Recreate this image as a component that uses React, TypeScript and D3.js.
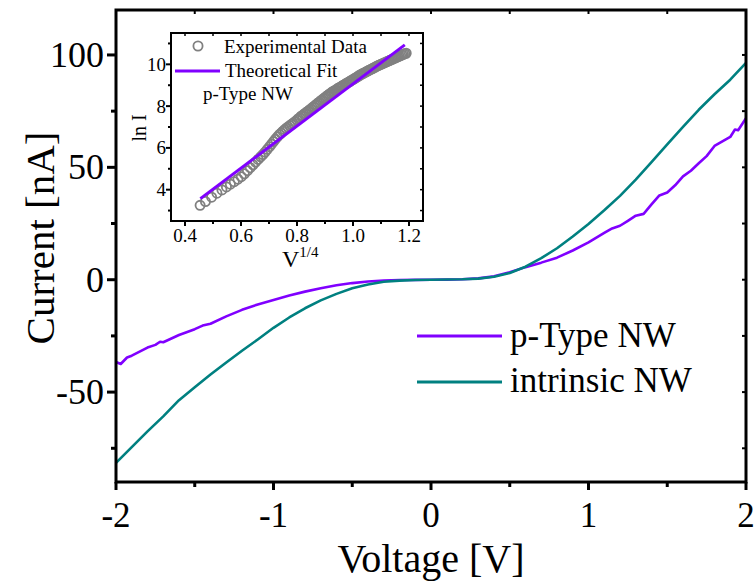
import React from "react";
import * as d3 from "d3";

const voltage = [-2.0,-1.9,-1.8,-1.7,-1.6,-1.5,-1.4,-1.3,-1.2,-1.1,-1.0,-0.9,-0.8,-0.7,-0.6,-0.5,-0.4,-0.3,-0.2,-0.1,0,0.1,0.2,0.3,0.4,0.5,0.6,0.7,0.8,0.9,1.0,1.1,1.2,1.3,1.4,1.5,1.6,1.7,1.8,1.9,2.0];
const intrinsicCurrent = [-81.5,-74.5,-67.5,-60.8,-53.6,-47.8,-42.2,-36.8,-31.6,-26.6,-21.4,-16.8,-12.7,-9.2,-6.3,-3.8,-2.1,-0.9,-0.4,-0.1,0,0.1,0.2,0.5,1.3,3.0,5.8,9.6,14.0,19.2,24.8,30.9,37.3,44.5,52.3,60.2,68.0,75.6,82.5,89.0,96.5];

const pVoltage = [-2.0,-1.97,-1.93,-1.9,-1.8,-1.75,-1.72,-1.7,-1.6,-1.5,-1.45,-1.4,-1.3,-1.2,-1.1,-1.0,-0.9,-0.8,-0.7,-0.6,-0.5,-0.4,-0.3,-0.2,-0.1,0,0.1,0.2,0.3,0.4,0.5,0.6,0.7,0.8,0.9,1.0,1.1,1.15,1.2,1.25,1.3,1.35,1.4,1.45,1.5,1.55,1.6,1.65,1.7,1.75,1.8,1.85,1.9,1.93,1.95,2.0];
const pTypeCurrent = [-36.6,-37.5,-34.6,-33.8,-30.2,-29.0,-27.6,-27.8,-24.6,-22.0,-20.4,-19.6,-16.3,-13.4,-11.0,-9.0,-7.0,-5.3,-3.8,-2.5,-1.5,-0.8,-0.4,-0.15,-0.05,0,0.05,0.2,0.6,1.5,3.3,5.6,7.6,9.8,13.0,16.6,20.8,22.8,24.0,26.2,28.5,29.3,33.5,37.5,38.8,42.0,46.0,48.5,51.8,55.0,59.5,61.5,63.5,66.8,66.5,71.8];

const xTicks = [-2,-1,0,1,2];
const xTickLabels = ["-2","-1","0","1","2"];
const yTicks = [-50,0,50,100];
const yTickLabels = ["-50","0","50","100"];

const insetX = [0.454,0.473,0.495,0.514,0.532,0.548,0.562,0.576,0.589,0.601,0.612,0.623,0.633,0.643,0.652,0.661,0.670,0.678,0.686,0.694,0.702,0.709,0.716,0.723,0.730,0.737,0.743,0.750,0.756,0.762,0.768,0.774,0.780,0.786,0.792,0.800,0.805,0.810,0.815,0.820,0.825,0.830,0.835,0.840,0.845,0.850,0.855,0.860,0.865,0.870,0.875,0.880,0.885,0.890,0.895,0.900,0.905,0.910,0.915,0.920,0.925,0.930,0.935,0.940,0.945,0.950,0.955,0.960,0.965,0.970,0.975,0.980,0.985,0.990,0.995,1.000,1.005,1.010,1.015,1.020,1.025,1.030,1.035,1.040,1.045,1.050,1.055,1.060,1.065,1.070,1.075,1.080,1.085,1.090,1.095,1.100,1.105,1.110,1.115,1.120,1.125,1.130,1.135,1.140,1.145,1.150,1.155,1.160,1.165,1.170,1.175,1.180,1.185,1.190];
const insetLnI = [3.25,3.43,3.64,3.83,3.99,4.13,4.26,4.38,4.50,4.62,4.76,4.91,5.05,5.19,5.32,5.45,5.57,5.68,5.80,5.93,6.06,6.18,6.30,6.42,6.53,6.63,6.71,6.80,6.87,6.94,7.00,7.06,7.12,7.18,7.25,7.33,7.40,7.44,7.52,7.55,7.62,7.65,7.72,7.76,7.82,7.86,7.93,7.97,8.04,8.08,8.15,8.19,8.26,8.30,8.36,8.40,8.47,8.51,8.57,8.61,8.67,8.70,8.75,8.78,8.84,8.87,8.92,8.95,9.00,9.03,9.08,9.11,9.16,9.19,9.24,9.27,9.32,9.35,9.40,9.44,9.49,9.52,9.56,9.59,9.63,9.66,9.70,9.73,9.77,9.80,9.84,9.87,9.91,9.94,9.97,10.00,10.03,10.06,10.09,10.12,10.15,10.18,10.21,10.24,10.27,10.30,10.33,10.36,10.39,10.42,10.45,10.48,10.51,10.53];
const fitX = [0.455,1.185];
const fitY = [3.57,10.93];
const insetXTicks = [0.4,0.6,0.8,1.0,1.2];
const insetXTickLabels = ["0.4","0.6","0.8","1.0","1.2"];
const insetYTicks = [4,6,8,10];
const insetYTickLabels = ["4","6","8","10"];

const FONT = "'Liberation Serif', 'Times New Roman', serif";
const PURPLE = "#8000ff";
const TEAL = "#008080";

export default function App() {
  const x = d3.scaleLinear().domain([-2, 2]).range([116, 746]);
  const y = d3.scaleLinear().domain([-90, 120]).range([482, 10]);
  const line = d3.line<[number, number]>().x(d => x(d[0])).y(d => y(d[1]));
  const pPts = pVoltage.map((v, i) => [v, pTypeCurrent[i]] as [number, number]);
  const iPts = voltage.map((v, i) => [v, intrinsicCurrent[i]] as [number, number]);

  const xi = d3.scaleLinear().domain([0.35, 1.25]).range([171, 423]);
  const yi = d3.scaleLinear().domain([2.5, 11.5]).range([221, 33]);

  const xMinor = d3.range(-1.5, 2, 1);
  const yMinor = [-75, -25, 25, 75];
  const xAll = d3.range(-2, 2.01, 0.5);
  const yAll = d3.range(-75, 101, 25);

  const ixMinor = d3.range(0.5, 1.21, 0.2);
  const iyMinor = [3, 5, 7, 9, 11];
  const ixAll = d3.range(0.4, 1.21, 0.1);

  return (
    <svg width={755} height={581} style={{ position: "absolute", left: 0, top: 0, background: "#fff" }} fontFamily={FONT}>
      <rect x={0} y={0} width={755} height={581} fill="#fff" />
      <path d={line(pPts) || ""} fill="none" stroke={PURPLE} strokeWidth={2.6} strokeLinejoin="round" />
      <path d={line(iPts) || ""} fill="none" stroke={TEAL} strokeWidth={2.6} strokeLinejoin="round" />

      <rect x={x(-2)} y={y(120)} width={x(2) - x(-2)} height={y(-90) - y(120)} fill="none" stroke="#000" strokeWidth={3} />
      {xTicks.map(t => <line key={"bx" + t} x1={x(t)} x2={x(t)} y1={y(-90)} y2={y(-90) + 8} stroke="#000" strokeWidth={3} />)}
      {xMinor.map(t => <line key={"bxm" + t} x1={x(t)} x2={x(t)} y1={y(-90)} y2={y(-90) + 5} stroke="#000" strokeWidth={3} />)}
      {xAll.map(t => <line key={"tx" + t} x1={x(t)} x2={x(t)} y1={y(120)} y2={y(120) + 4} stroke="#000" strokeWidth={2} />)}
      {yTicks.map(t => <line key={"ly" + t} x1={x(-2) - 9} x2={x(-2)} y1={y(t)} y2={y(t)} stroke="#000" strokeWidth={3} />)}
      {yMinor.map(t => <line key={"lym" + t} x1={x(-2) - 5} x2={x(-2)} y1={y(t)} y2={y(t)} stroke="#000" strokeWidth={3} />)}
      {yAll.map(t => <line key={"ry" + t} x1={x(2) - 4} x2={x(2)} y1={y(t)} y2={y(t)} stroke="#000" strokeWidth={2} />)}

      {xTicks.map((t, i) => (
        <text key={"xl" + t} x={x(t)} y={527} fontSize={35} textAnchor="middle">{xTickLabels[i]}</text>
      ))}
      {yTicks.map((t, i) => (
        <text key={"yl" + t} x={104} y={y(t) + 12} fontSize={36} textAnchor="end">{yTickLabels[i]}</text>
      ))}
      <text x={431} y={572} fontSize={40} textAnchor="middle">Voltage [V]</text>
      <text transform={`translate(54,${238}) rotate(-90)`} fontSize={41} textAnchor="middle">Current [nA]</text>

      <line x1={417} x2={502} y1={336} y2={336} stroke={PURPLE} strokeWidth={3} />
      <text x={510} y={347} fontSize={35}>p-Type NW</text>
      <line x1={417} x2={502} y1={382} y2={382} stroke={TEAL} strokeWidth={3} />
      <text x={510} y={392} fontSize={35}>intrinsic NW</text>

      <rect x={xi(0.35)} y={yi(11.5)} width={xi(1.25) - xi(0.35)} height={yi(2.5) - yi(11.5)} fill="#fff" />
      {insetX.map((v, i) => (
        <circle key={"c" + i} cx={xi(v)} cy={yi(insetLnI[i])} r={4.6} fill="none" stroke="#808080" strokeWidth={1.8} />
      ))}
      <line x1={xi(fitX[0])} y1={yi(fitY[0])} x2={xi(fitX[1])} y2={yi(fitY[1])} stroke={PURPLE} strokeWidth={3} />
      <rect x={xi(0.35)} y={yi(11.5)} width={xi(1.25) - xi(0.35)} height={yi(2.5) - yi(11.5)} fill="none" stroke="#000" strokeWidth={2} />
      {insetXTicks.map(t => <line key={"ixt" + t} x1={xi(t)} x2={xi(t)} y1={yi(2.5)} y2={yi(2.5) + 5} stroke="#000" strokeWidth={2} />)}
      {ixMinor.map(t => <line key={"ixm" + t} x1={xi(t)} x2={xi(t)} y1={yi(2.5)} y2={yi(2.5) + 3} stroke="#000" strokeWidth={2} />)}
      {ixAll.map(t => <line key={"ixtop" + t} x1={xi(t)} x2={xi(t)} y1={yi(11.5)} y2={yi(11.5) + 3} stroke="#000" strokeWidth={1.5} />)}
      {insetYTicks.map(t => <line key={"iyt" + t} x1={xi(0.35) - 5} x2={xi(0.35)} y1={yi(t)} y2={yi(t)} stroke="#000" strokeWidth={2} />)}
      {iyMinor.map(t => <line key={"iym" + t} x1={xi(0.35) - 3} x2={xi(0.35)} y1={yi(t)} y2={yi(t)} stroke="#000" strokeWidth={2} />)}
      {[3, 4, 5, 6, 7, 8, 9, 10, 11].map(t => <line key={"iyr" + t} x1={xi(1.25) - 3} x2={xi(1.25)} y1={yi(t)} y2={yi(t)} stroke="#000" strokeWidth={1.5} />)}
      {insetXTicks.map((t, i) => (
        <text key={"ixl" + t} x={xi(t)} y={242} fontSize={19} textAnchor="middle">{insetXTickLabels[i]}</text>
      ))}
      {insetYTicks.map((t, i) => (
        <text key={"iyl" + t} x={166} y={yi(t) + 6.5} fontSize={19} textAnchor="end">{insetYTickLabels[i]}</text>
      ))}
      <text x={282} y={267} fontSize={24}>V<tspan dy={-10} fontSize={15}>1/4</tspan></text>
      <text transform={`translate(146,128) rotate(-90)`} fontSize={20} textAnchor="middle">ln I</text>

      <circle cx={198} cy={46} r={4.6} fill="none" stroke="#808080" strokeWidth={1.8} />
      <text x={224} y={53} fontSize={19}>Experimental Data</text>
      <line x1={175} x2={220} y1={71} y2={71} stroke={PURPLE} strokeWidth={3} />
      <text x={225} y={77} fontSize={19}>Theoretical Fit</text>
      <text x={203} y={100} fontSize={19}>p-Type NW</text>
    </svg>
  );
}
